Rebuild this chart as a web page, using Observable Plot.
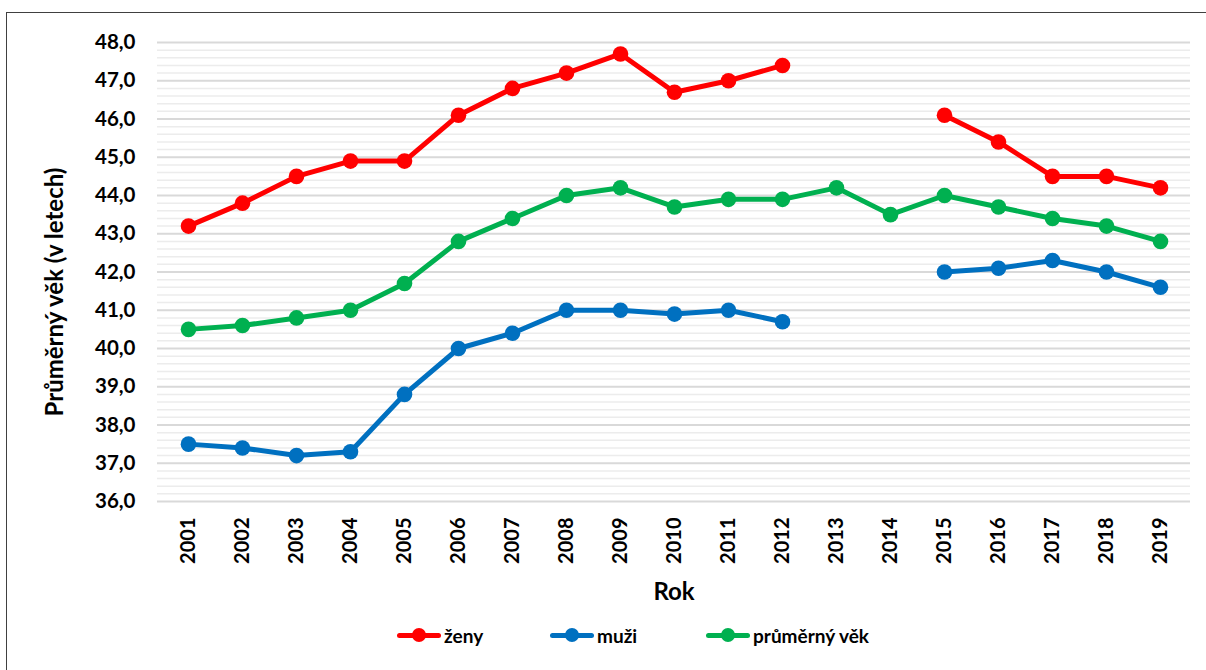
<!DOCTYPE html>
<html>
<head>
<meta charset="utf-8">
<script src="https://cdn.jsdelivr.net/npm/d3@7"></script>
<script src="https://cdn.jsdelivr.net/npm/@observablehq/plot@0.6"></script>
<style>
  html, body { margin: 0; padding: 0; background: #fff; width: 1206px; height: 670px; overflow: hidden; }
  body { position: relative; font-family: Lato, "Open Sans", sans-serif; }
  #frame { position: absolute; left: 6px; top: 12px; width: 1300px; height: 800px; border: 1.5px solid #404040; box-sizing: border-box; }
  #chart { position: absolute; left: 0; top: 0; }
  #legend { position: absolute; top: 622px; left: 0; width: 1206px; height: 26px; font-weight: 700; font-size: 19px; color: #000; }
  .item { position: absolute; top: 0; display: flex; align-items: center; height: 26px; }
  .sw { position: relative; width: 44px; height: 26px; margin-right: 3px; }
  .sw .ln { position: absolute; left: 0; right: 0; top: 10.5px; height: 5px; border-radius: 2.5px; }
  .sw .dt { position: absolute; left: 15px; top: 6px; width: 14px; height: 14px; border-radius: 7px; }
</style>
</head>
<body>
<div id="frame"></div>
<div id="chart"></div>
<div id="legend"></div>
<script>
const years = ["2001","2002","2003","2004","2005","2006","2007","2008","2009","2010","2011","2012","2013","2014","2015","2016","2017","2018","2019"];
const zeny = [43.2, 43.8, 44.5, 44.9, 44.9, 46.1, 46.8, 47.2, 47.7, 46.7, 47.0, 47.4, null, null, 46.1, 45.4, 44.5, 44.5, 44.2];
const muzi = [37.5, 37.4, 37.2, 37.3, 38.8, 40.0, 40.4, 41.0, 41.0, 40.9, 41.0, 40.7, null, null, 42.0, 42.1, 42.3, 42.0, 41.6];
const prumer = [40.5, 40.6, 40.8, 41.0, 41.7, 42.8, 43.4, 44.0, 44.2, 43.7, 43.9, 43.9, 44.2, 43.5, 44.0, 43.7, 43.4, 43.2, 42.8];
const seriesNames = ["ženy", "muži", "průměrný věk"];
const seriesColors = ["#FF0000", "#0070C0", "#00B050"];
const yTicks = [36, 37, 38, 39, 40, 41, 42, 43, 44, 45, 46, 47, 48];
const yTitle = "Průměrný věk (v letech)";
const xTitle = "Rok";

const seriesValues = [zeny, muzi, prumer];
const data = [];
seriesValues.forEach((vals, s) => {
  vals.forEach((v, i) => data.push({year: years[i], value: v, series: seriesNames[s]}));
});
const minorTicks = d3.range(0, 61).map(i => 36 + i * 0.2).filter(v => Math.abs(v - Math.round(v)) > 1e-6);
const fmt = d => d.toFixed(1).replace(".", ",");

const chart = Plot.plot({
  width: 1206,
  height: 615,
  marginLeft: 157,
  marginRight: 16,
  marginTop: 42,
  marginBottom: 114,
  style: { fontFamily: "Lato, 'Open Sans', sans-serif", fontSize: "20.5px", fontWeight: 700, color: "#000", background: "transparent", overflow: "visible" },
  x: { type: "point", domain: years, padding: 0.5 },
  y: { domain: [36, 48] },
  color: { domain: seriesNames, range: seriesColors },
  marks: [
    Plot.ruleY(minorTicks, { stroke: "#ececec", strokeWidth: 1.5 }),
    Plot.ruleY(yTicks, { stroke: "#d9d9d9", strokeWidth: 2 }),
    Plot.axisY({ ticks: yTicks, tickFormat: fmt, tickSize: 0, tickPadding: 22, label: null }),
    Plot.text([yTitle], { frameAnchor: "left", text: d => d, rotate: -90, textAnchor: "middle", lineAnchor: "middle", dx: -102, dy: 20, fontSize: 24, fontWeight: 700, fill: "#000" }),
    Plot.axisX({ tickRotate: -90, tickSize: 0, tickPadding: 16, fontSize: 20, label: null }),
    Plot.axisX({ ticks: [], tickSize: 0, fontSize: 24, label: xTitle, labelAnchor: "center", labelOffset: 98, labelArrow: "none" }),
    Plot.line(data, { x: "year", y: "value", z: "series", stroke: "series", strokeWidth: 5, strokeLinejoin: "round", strokeLinecap: "round" }),
    Plot.dot(data, { x: "year", y: "value", fill: "series", r: 7.8 })
  ]
});
document.getElementById("chart").appendChild(chart);

const legend = document.getElementById("legend");
const lefts = [397, 550, 706];
seriesNames.forEach((name, i) => {
  const item = document.createElement("div");
  item.className = "item";
  item.style.left = lefts[i] + "px";
  item.innerHTML = `<div class="sw"><div class="ln" style="background:${seriesColors[i]}"></div><div class="dt" style="background:${seriesColors[i]}"></div></div><span>${name}</span>`;
  legend.appendChild(item);
});
</script>
</body>
</html>
